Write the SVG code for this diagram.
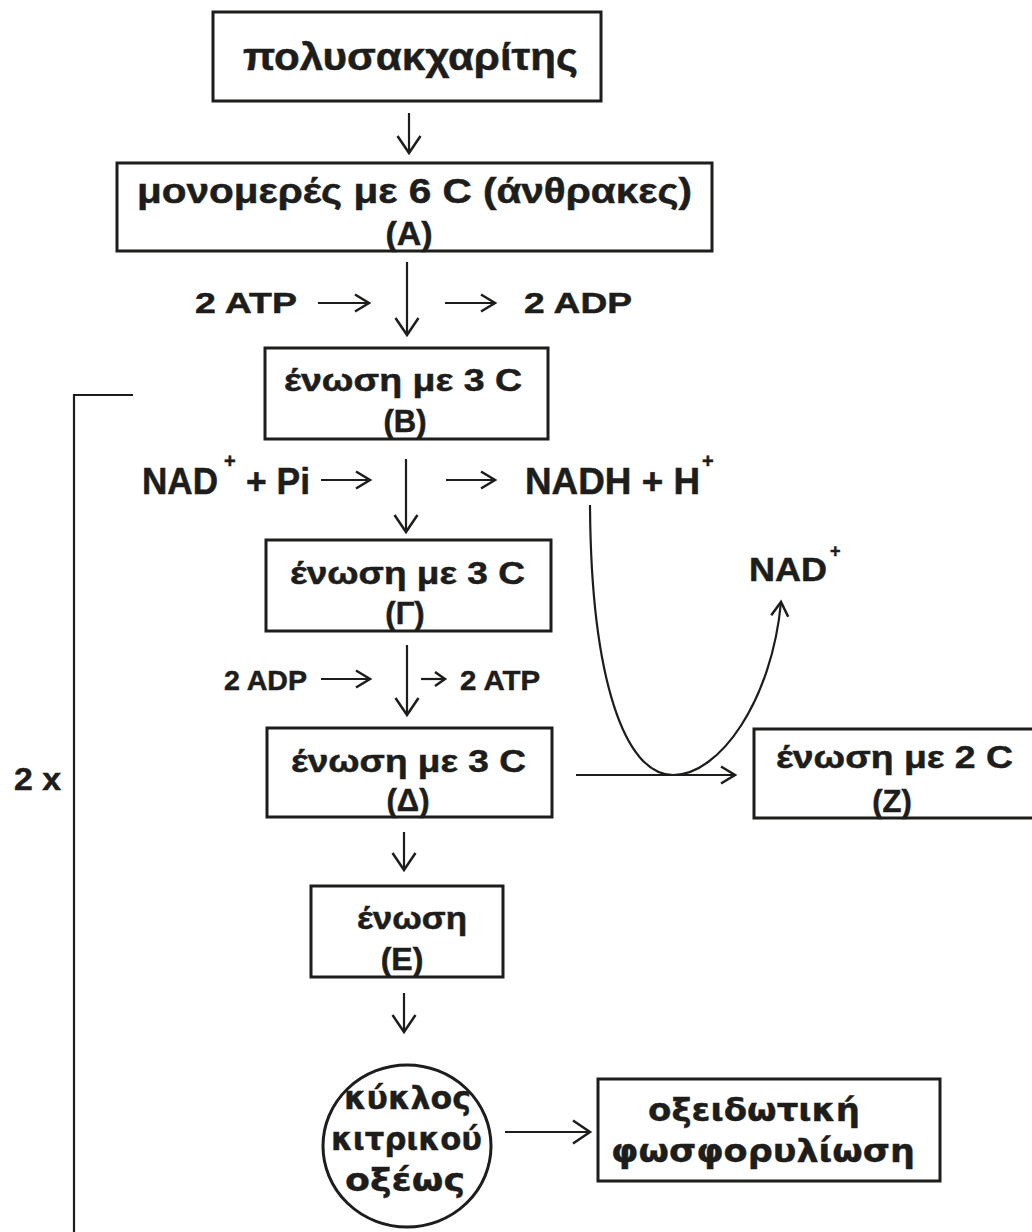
<svg xmlns="http://www.w3.org/2000/svg" width="1032" height="1232" viewBox="0 0 1032 1232">
<style>
.box{fill:none;stroke:#1d1d1b;stroke-width:3}
.t{font-family:"Liberation Sans",Arial,sans-serif;font-weight:bold;fill:#1d1d1b;stroke:#1d1d1b;stroke-width:0.5}
.v{font-family:"DejaVu Sans",Verdana,sans-serif;font-weight:bold;fill:#1d1d1b;stroke:#1d1d1b;stroke-width:0.4}
.ln{fill:none;stroke:#1d1d1b;stroke-width:2.2}
.hd{fill:none;stroke:#1d1d1b;stroke-width:2.5}
</style>
<defs>
<marker id="big" markerUnits="userSpaceOnUse" markerWidth="40" markerHeight="40" refX="0" refY="0" orient="auto" style="overflow:visible">
<path class="hd" d="M-17,-11.5 L0,0 L-17,11.5"/>
</marker>
<marker id="mid" markerUnits="userSpaceOnUse" markerWidth="40" markerHeight="40" refX="0" refY="0" orient="auto" style="overflow:visible">
<path class="hd" d="M-14,-8.5 L0,0 L-14,8.5"/>
</marker>
<marker id="sm" markerUnits="userSpaceOnUse" markerWidth="40" markerHeight="40" refX="0" refY="0" orient="auto" style="overflow:visible">
<path class="hd" d="M-10,-7 L0,0 L-10,7"/>
</marker>
</defs>
<rect width="1032" height="1232" fill="#ffffff"/>

<g id="connectors">
<line class="ln" x1="409" y1="113" x2="409" y2="153" marker-end="url(#big)"/>
<line class="ln" x1="407" y1="262" x2="407" y2="335" marker-end="url(#big)"/>
<line class="ln" x1="406" y1="459" x2="406" y2="532" marker-end="url(#big)"/>
<line class="ln" x1="407" y1="645" x2="407" y2="715" marker-end="url(#big)"/>
<line class="ln" x1="404" y1="832" x2="404" y2="870" marker-end="url(#big)"/>
<line class="ln" x1="404" y1="993" x2="404" y2="1032" marker-end="url(#big)"/>
<line class="ln" x1="318" y1="303" x2="369" y2="303" marker-end="url(#mid)"/>
<line class="ln" x1="445" y1="303" x2="495" y2="303" marker-end="url(#mid)"/>
<line class="ln" x1="321" y1="480" x2="370" y2="480" marker-end="url(#mid)"/>
<line class="ln" x1="446" y1="480" x2="495" y2="480" marker-end="url(#mid)"/>
<line class="ln" x1="321" y1="679" x2="370" y2="679" marker-end="url(#mid)"/>
<line class="ln" x1="421" y1="679" x2="445" y2="679" marker-end="url(#sm)"/>
<line class="ln" x1="576" y1="775" x2="735" y2="775" marker-end="url(#mid)"/>
<line class="ln" x1="505" y1="1132" x2="590" y2="1132" marker-end="url(#big)"/>
<path class="ln" stroke-width="2.6" d="M590,505 C591,680 625,775 673,775 C720,775 772,700 781,602" marker-end="url(#mid)"/>
<path class="ln" stroke-width="3" d="M133,395 H74 V1232"/>
</g>

<g id="n-poly">
<rect class="box" x="213" y="12" width="388" height="89"/>
<text class="t" x="243" y="70" font-size="38" textLength="335" lengthAdjust="spacingAndGlyphs">πολυσακχαρίτης</text>
</g>
<g id="n-A">
<rect class="box" x="117" y="163" width="595" height="88"/>
<text class="t" x="137" y="203" font-size="35" textLength="555" lengthAdjust="spacingAndGlyphs">μονομερές με 6 C (άνθρακες)</text>
<text class="t" x="409" y="245" font-size="34" text-anchor="middle">(A)</text>
</g>
<g id="atp1">
<text class="t" x="195" y="313" font-size="30" textLength="102" lengthAdjust="spacingAndGlyphs">2 ATP</text>
<text class="t" x="524" y="313" font-size="30" textLength="108" lengthAdjust="spacingAndGlyphs">2 ADP</text>
</g>
<g id="n-B">
<rect class="box" x="265" y="348" width="283" height="91"/>
<text class="t" x="284" y="391" font-size="31" textLength="238" lengthAdjust="spacingAndGlyphs">ένωση με 3 C</text>
<text class="t" x="405" y="432" font-size="31" text-anchor="middle">(B)</text>
</g>
<g id="nad1">
<text class="t" x="142" y="494" font-size="36" textLength="76" lengthAdjust="spacingAndGlyphs">NAD</text>
<text class="t" x="224" y="468" font-size="20">+</text>
<text class="t" x="246" y="494" font-size="36" textLength="64" lengthAdjust="spacingAndGlyphs">+ Pi</text>
<text class="t" x="525" y="494" font-size="36" textLength="175" lengthAdjust="spacingAndGlyphs">NADH + H</text>
<text class="t" x="702" y="468" font-size="20">+</text>
</g>
<g id="nad2">
<text class="t" x="749" y="581" font-size="33" textLength="78" lengthAdjust="spacingAndGlyphs">NAD</text>
<text class="t" x="830" y="557" font-size="18">+</text>
</g>
<g id="n-G">
<rect class="box" x="266" y="540" width="285" height="91"/>
<text class="t" x="290" y="584" font-size="31" textLength="235" lengthAdjust="spacingAndGlyphs">ένωση με 3 C</text>
<text class="t" x="405" y="624" font-size="31" text-anchor="middle">(Γ)</text>
</g>
<g id="atp2">
<text class="t" x="224" y="690" font-size="28" textLength="83" lengthAdjust="spacingAndGlyphs">2 ADP</text>
<text class="t" x="460" y="690" font-size="28" textLength="80" lengthAdjust="spacingAndGlyphs">2 ATP</text>
</g>
<g id="n-D">
<rect class="box" x="267" y="728" width="285" height="89"/>
<text class="t" x="291" y="772" font-size="31" textLength="235" lengthAdjust="spacingAndGlyphs">ένωση με 3 C</text>
<text class="t" x="408" y="811" font-size="31" text-anchor="middle">(Δ)</text>
</g>
<g id="n-Z">
<rect class="box" x="754" y="729" width="300" height="89"/>
<text class="t" x="776" y="768" font-size="31" textLength="237" lengthAdjust="spacingAndGlyphs">ένωση με 2 C</text>
<text class="t" x="892" y="812" font-size="31" text-anchor="middle">(Z)</text>
</g>
<g id="n-E">
<rect class="box" x="311" y="886" width="192" height="91"/>
<text class="t" x="357" y="929" font-size="32" textLength="110" lengthAdjust="spacingAndGlyphs">ένωση</text>
<text class="t" x="402" y="970" font-size="32" text-anchor="middle">(E)</text>
</g>
<g id="n-krebs">
<ellipse class="box" cx="407" cy="1146" rx="84" ry="81"/>
<text class="v" x="344" y="1109" font-size="32" textLength="127" lengthAdjust="spacingAndGlyphs">κύκλος</text>
<text class="v" x="331" y="1150" font-size="32" textLength="151" lengthAdjust="spacingAndGlyphs">κιτρικού</text>
<text class="v" x="345" y="1191" font-size="32" textLength="120" lengthAdjust="spacingAndGlyphs">οξέως</text>
</g>
<g id="n-oxphos">
<rect class="box" x="598" y="1079" width="342" height="102"/>
<text class="v" x="648" y="1121" font-size="32" textLength="212" lengthAdjust="spacingAndGlyphs">οξειδωτική</text>
<text class="v" x="611" y="1162" font-size="32" textLength="304" lengthAdjust="spacingAndGlyphs">φωσφορυλίωση</text>
</g>
<g id="label-2x">
<text class="t" x="14" y="790" font-size="31" textLength="47" lengthAdjust="spacingAndGlyphs">2 x</text>
</g>
</svg>
